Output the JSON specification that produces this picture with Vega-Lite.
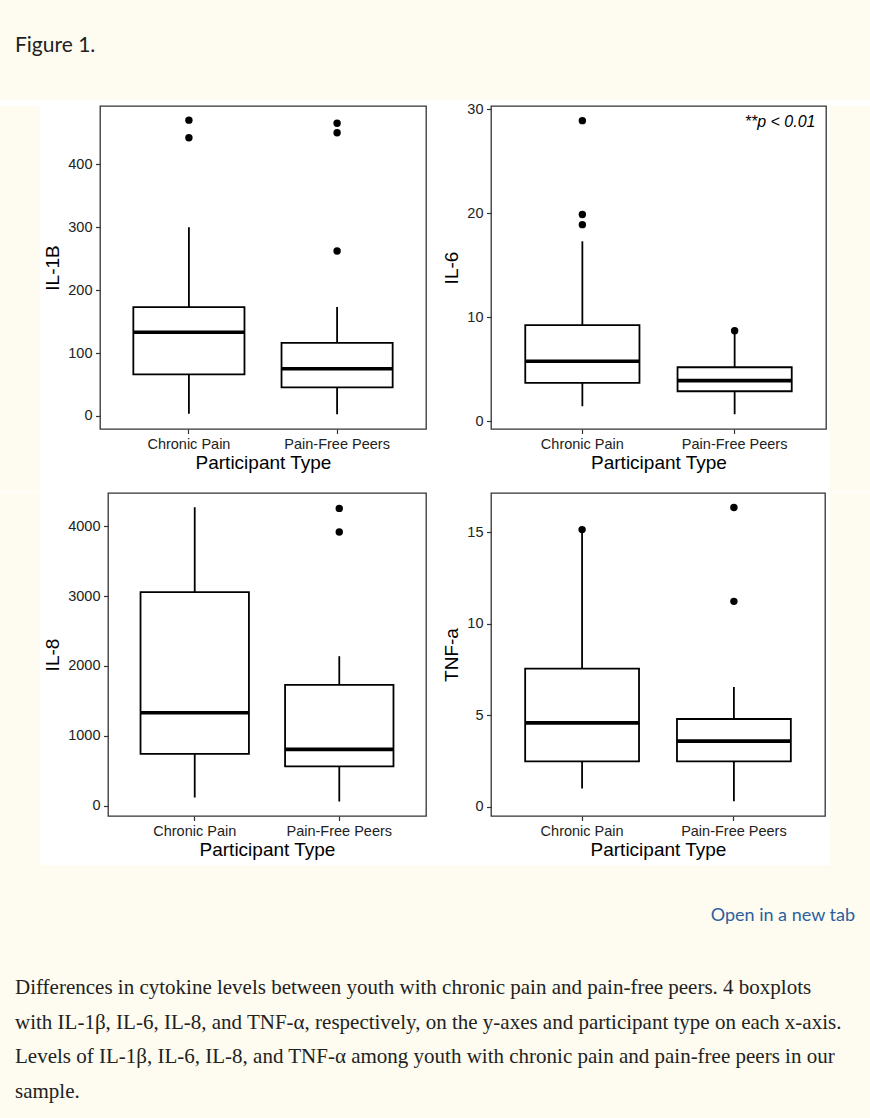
{
  "$schema": "https://vega.github.io/schema/vega-lite/v6.json",
  "background": "white",
  "padding": 0,
  "spacing": 0,
  "datasets": {
    "boxes": [
      {"cytokine": "IL-1B", "type": "Chronic Pain", "lower": 3.7, "q1": 66, "median": 133, "q3": 173, "upper": 300},
      {"cytokine": "IL-1B", "type": "Pain-Free Peers", "lower": 2.6, "q1": 45.5, "median": 75, "q3": 116, "upper": 173},
      {"cytokine": "IL-6", "type": "Chronic Pain", "lower": 1.44, "q1": 3.68, "median": 5.77, "q3": 9.23, "upper": 17.3},
      {"cytokine": "IL-6", "type": "Pain-Free Peers", "lower": 0.67, "q1": 2.88, "median": 3.9, "q3": 5.19, "upper": 8.6},
      {"cytokine": "IL-8", "type": "Chronic Pain", "lower": 118, "q1": 742, "median": 1331, "q3": 3057, "upper": 4270},
      {"cytokine": "IL-8", "type": "Pain-Free Peers", "lower": 61, "q1": 565, "median": 807, "q3": 1730, "upper": 2140},
      {"cytokine": "TNF-a", "type": "Chronic Pain", "lower": 1.0, "q1": 2.49, "median": 4.59, "q3": 7.55, "upper": 15.0},
      {"cytokine": "TNF-a", "type": "Pain-Free Peers", "lower": 0.31, "q1": 2.49, "median": 3.59, "q3": 4.8, "upper": 6.55}
    ],
    "outliers": [
      {"cytokine": "IL-1B", "type": "Chronic Pain", "value": 470},
      {"cytokine": "IL-1B", "type": "Chronic Pain", "value": 442},
      {"cytokine": "IL-1B", "type": "Pain-Free Peers", "value": 465},
      {"cytokine": "IL-1B", "type": "Pain-Free Peers", "value": 450},
      {"cytokine": "IL-1B", "type": "Pain-Free Peers", "value": 262},
      {"cytokine": "IL-6", "type": "Chronic Pain", "value": 28.9},
      {"cytokine": "IL-6", "type": "Chronic Pain", "value": 19.87},
      {"cytokine": "IL-6", "type": "Chronic Pain", "value": 18.9},
      {"cytokine": "IL-6", "type": "Pain-Free Peers", "value": 8.7},
      {"cytokine": "IL-8", "type": "Pain-Free Peers", "value": 4255},
      {"cytokine": "IL-8", "type": "Pain-Free Peers", "value": 3917},
      {"cytokine": "TNF-a", "type": "Chronic Pain", "value": 15.15},
      {"cytokine": "TNF-a", "type": "Pain-Free Peers", "value": 16.36},
      {"cytokine": "TNF-a", "type": "Pain-Free Peers", "value": 11.23}
    ]
  },
  "config": {
    "axis": {
      "grid": false, "domain": false,
      "tickColor": "#333333", "tickWidth": 1.2, "tickSize": 4.5,
      "labelFont": "Liberation Sans", "labelFontSize": 14.5, "labelColor": "#222222", "labelPadding": 3.5,
      "titleFont": "Liberation Sans", "titleFontSize": 19, "titleFontWeight": "normal", "titleColor": "#000000"
    },
    "axisX": {"labelAngle": 0, "titlePadding": 3},
    "axisY": {"titlePadding": 5, "format": "d"},
    "title": {"fontWeight": "normal"}
  },
  "vconcat": [
    {
      "width": 870, "height": 100,
      "view": {"fill": "#fefcf0", "stroke": null},
      "data": {"values": [{"label": "Figure 1."}]},
      "mark": {"type": "point", "opacity": 0},
      "title": {"text": "Figure 1.", "anchor": "start", "frame": "group", "orient": "top", "offset": -73, "dx": 15, "baseline": "alphabetic", "font": "Lato", "fontSize": 21, "fontWeight": "normal", "color": "#222222"}
    },
    {
      "spacing": 0,
      "vconcat": [
        {
          "spacing": 0, "bounds": "flush",
          "hconcat": [
            {"width": 40, "height": 386, "view": {"fill": "#fefcf0", "stroke": null}, "data": {"values": [{"label": "margin"}]}, "mark": {"type": "point", "opacity": 0}},
            {"width": 60, "height": 100, "view": {"stroke": null}, "data": {"values": [{"label": "gap"}]}, "mark": {"type": "point", "opacity": 0}},
            {
              "width": 326, "height": 323,
              "view": {"fill": "white", "stroke": "#333333", "strokeWidth": 1.3},
              "encoding": {"x": {"field": "type", "type": "nominal", "title": "Participant Type", "scale": {"domain": ["Chronic Pain", "Pain-Free Peers"], "paddingInner": 0.25, "paddingOuter": 0.225}}},
              "layer": [
                {"data": {"name": "boxes"}, "transform": [{"filter": "datum.cytokine === 'IL-1B'"}],
                 "mark": {"type": "rule", "color": "black", "strokeWidth": 1.8},
                 "encoding": {"y": {"field": "lower", "type": "quantitative", "title": "IL-1B", "scale": {"domain": [-20.7, 492.5], "nice": false, "zero": false}, "axis": {"values": [0, 100, 200, 300, 400]}}, "y2": {"field": "upper"}}},
                {"data": {"name": "boxes"}, "transform": [{"filter": "datum.cytokine === 'IL-1B'"}],
                 "mark": {"type": "bar", "fill": "white", "stroke": "black", "strokeWidth": 1.8},
                 "encoding": {"y": {"field": "q1", "type": "quantitative", "title": "IL-1B", "scale": {"domain": [-20.7, 492.5], "nice": false, "zero": false}, "axis": {"values": [0, 100, 200, 300, 400]}}, "y2": {"field": "q3"}}},
                {"data": {"name": "boxes"}, "transform": [{"filter": "datum.cytokine === 'IL-1B'"}],
                 "mark": {"type": "tick", "color": "black", "thickness": 3.6, "size": 111, "opacity": 1},
                 "encoding": {"y": {"field": "median", "type": "quantitative", "title": "IL-1B", "scale": {"domain": [-20.7, 492.5], "nice": false, "zero": false}, "axis": {"values": [0, 100, 200, 300, 400]}}}},
                {"data": {"name": "outliers"}, "transform": [{"filter": "datum.cytokine === 'IL-1B'"}],
                 "mark": {"type": "point", "filled": true, "color": "black", "size": 55, "opacity": 1},
                 "encoding": {"y": {"field": "value", "type": "quantitative", "title": "IL-1B", "scale": {"domain": [-20.7, 492.5], "nice": false, "zero": false}, "axis": {"values": [0, 100, 200, 300, 400]}}}}
              ]
            },
            {"width": 65, "height": 100, "view": {"stroke": null}, "data": {"values": [{"label": "gap"}]}, "mark": {"type": "point", "opacity": 0}},
            {
              "width": 335, "height": 323,
              "view": {"fill": "white", "stroke": "#333333", "strokeWidth": 1.3},
              "title": {"text": "**p < 0.01", "anchor": "end", "frame": "group", "orient": "top", "offset": -42, "dx": -10.5, "baseline": "alphabetic", "font": "Liberation Sans", "fontSize": 16, "fontStyle": "italic", "fontWeight": "normal", "color": "#000000"},
              "encoding": {"x": {"field": "type", "type": "nominal", "title": "Participant Type", "scale": {"domain": ["Chronic Pain", "Pain-Free Peers"], "paddingInner": 0.25, "paddingOuter": 0.225}}},
              "layer": [
                {"data": {"name": "boxes"}, "transform": [{"filter": "datum.cytokine === 'IL-6'"}],
                 "mark": {"type": "rule", "color": "black", "strokeWidth": 1.8},
                 "encoding": {"y": {"field": "lower", "type": "quantitative", "title": "IL-6", "scale": {"domain": [-0.75, 30.31], "nice": false, "zero": false}, "axis": {"values": [0, 10, 20, 30]}}, "y2": {"field": "upper"}}},
                {"data": {"name": "boxes"}, "transform": [{"filter": "datum.cytokine === 'IL-6'"}],
                 "mark": {"type": "bar", "fill": "white", "stroke": "black", "strokeWidth": 1.8},
                 "encoding": {"y": {"field": "q1", "type": "quantitative", "title": "IL-6", "scale": {"domain": [-0.75, 30.31], "nice": false, "zero": false}, "axis": {"values": [0, 10, 20, 30]}}, "y2": {"field": "q3"}}},
                {"data": {"name": "boxes"}, "transform": [{"filter": "datum.cytokine === 'IL-6'"}],
                 "mark": {"type": "tick", "color": "black", "thickness": 3.6, "size": 114, "opacity": 1},
                 "encoding": {"y": {"field": "median", "type": "quantitative", "title": "IL-6", "scale": {"domain": [-0.75, 30.31], "nice": false, "zero": false}, "axis": {"values": [0, 10, 20, 30]}}}},
                {"data": {"name": "outliers"}, "transform": [{"filter": "datum.cytokine === 'IL-6'"}],
                 "mark": {"type": "point", "filled": true, "color": "black", "size": 55, "opacity": 1},
                 "encoding": {"y": {"field": "value", "type": "quantitative", "title": "IL-6", "scale": {"domain": [-0.75, 30.31], "nice": false, "zero": false}, "axis": {"values": [0, 10, 20, 30]}}}}
              ]
            },
            {"width": 4, "height": 100, "view": {"stroke": null}, "data": {"values": [{"label": "gap"}]}, "mark": {"type": "point", "opacity": 0}},
            {"width": 40, "height": 386, "view": {"fill": "#fefcf0", "stroke": null}, "data": {"values": [{"label": "margin"}]}, "mark": {"type": "point", "opacity": 0}}
          ]
        },
        {
          "spacing": 0, "bounds": "flush",
          "hconcat": [
            {"width": 40, "height": 372, "view": {"fill": "#fefcf0", "stroke": null}, "data": {"values": [{"label": "margin"}]}, "mark": {"type": "point", "opacity": 0}},
            {"width": 68, "height": 100, "view": {"stroke": null}, "data": {"values": [{"label": "gap"}]}, "mark": {"type": "point", "opacity": 0}},
            {
              "width": 318, "height": 323,
              "view": {"fill": "white", "stroke": "#333333", "strokeWidth": 1.3},
              "encoding": {"x": {"field": "type", "type": "nominal", "title": "Participant Type", "scale": {"domain": ["Chronic Pain", "Pain-Free Peers"], "paddingInner": 0.25, "paddingOuter": 0.225}}},
              "layer": [
                {"data": {"name": "boxes"}, "transform": [{"filter": "datum.cytokine === 'IL-8'"}],
                 "mark": {"type": "rule", "color": "black", "strokeWidth": 1.8},
                 "encoding": {"y": {"field": "lower", "type": "quantitative", "title": "IL-8", "scale": {"domain": [-146, 4475], "nice": false, "zero": false}, "axis": {"values": [0, 1000, 2000, 3000, 4000]}}, "y2": {"field": "upper"}}},
                {"data": {"name": "boxes"}, "transform": [{"filter": "datum.cytokine === 'IL-8'"}],
                 "mark": {"type": "bar", "fill": "white", "stroke": "black", "strokeWidth": 1.8},
                 "encoding": {"y": {"field": "q1", "type": "quantitative", "title": "IL-8", "scale": {"domain": [-146, 4475], "nice": false, "zero": false}, "axis": {"values": [0, 1000, 2000, 3000, 4000]}}, "y2": {"field": "q3"}}},
                {"data": {"name": "boxes"}, "transform": [{"filter": "datum.cytokine === 'IL-8'"}],
                 "mark": {"type": "tick", "color": "black", "thickness": 3.6, "size": 108.5, "opacity": 1},
                 "encoding": {"y": {"field": "median", "type": "quantitative", "title": "IL-8", "scale": {"domain": [-146, 4475], "nice": false, "zero": false}, "axis": {"values": [0, 1000, 2000, 3000, 4000]}}}},
                {"data": {"name": "outliers"}, "transform": [{"filter": "datum.cytokine === 'IL-8'"}],
                 "mark": {"type": "point", "filled": true, "color": "black", "size": 55, "opacity": 1},
                 "encoding": {"y": {"field": "value", "type": "quantitative", "title": "IL-8", "scale": {"domain": [-146, 4475], "nice": false, "zero": false}, "axis": {"values": [0, 1000, 2000, 3000, 4000]}}}}
              ]
            },
            {"width": 65, "height": 100, "view": {"stroke": null}, "data": {"values": [{"label": "gap"}]}, "mark": {"type": "point", "opacity": 0}},
            {
              "width": 334, "height": 323,
              "view": {"fill": "white", "stroke": "#333333", "strokeWidth": 1.3},
              "encoding": {"x": {"field": "type", "type": "nominal", "title": "Participant Type", "scale": {"domain": ["Chronic Pain", "Pain-Free Peers"], "paddingInner": 0.25, "paddingOuter": 0.225}}},
              "layer": [
                {"data": {"name": "boxes"}, "transform": [{"filter": "datum.cytokine === 'TNF-a'"}],
                 "mark": {"type": "rule", "color": "black", "strokeWidth": 1.8},
                 "encoding": {"y": {"field": "lower", "type": "quantitative", "title": "TNF-a", "scale": {"domain": [-0.5, 17.15], "nice": false, "zero": false}, "axis": {"values": [0, 5, 10, 15]}}, "y2": {"field": "upper"}}},
                {"data": {"name": "boxes"}, "transform": [{"filter": "datum.cytokine === 'TNF-a'"}],
                 "mark": {"type": "bar", "fill": "white", "stroke": "black", "strokeWidth": 1.8},
                 "encoding": {"y": {"field": "q1", "type": "quantitative", "title": "TNF-a", "scale": {"domain": [-0.5, 17.15], "nice": false, "zero": false}, "axis": {"values": [0, 5, 10, 15]}}, "y2": {"field": "q3"}}},
                {"data": {"name": "boxes"}, "transform": [{"filter": "datum.cytokine === 'TNF-a'"}],
                 "mark": {"type": "tick", "color": "black", "thickness": 3.6, "size": 114, "opacity": 1},
                 "encoding": {"y": {"field": "median", "type": "quantitative", "title": "TNF-a", "scale": {"domain": [-0.5, 17.15], "nice": false, "zero": false}, "axis": {"values": [0, 5, 10, 15]}}}},
                {"data": {"name": "outliers"}, "transform": [{"filter": "datum.cytokine === 'TNF-a'"}],
                 "mark": {"type": "point", "filled": true, "color": "black", "size": 55, "opacity": 1},
                 "encoding": {"y": {"field": "value", "type": "quantitative", "title": "TNF-a", "scale": {"domain": [-0.5, 17.15], "nice": false, "zero": false}, "axis": {"values": [0, 5, 10, 15]}}}}
              ]
            },
            {"width": 5, "height": 100, "view": {"stroke": null}, "data": {"values": [{"label": "gap"}]}, "mark": {"type": "point", "opacity": 0}},
            {"width": 40, "height": 372, "view": {"fill": "#fefcf0", "stroke": null}, "data": {"values": [{"label": "margin"}]}, "mark": {"type": "point", "opacity": 0}}
          ]
        }
      ]
    },
    {
      "width": 870, "height": 84,
      "view": {"fill": "#fefcf0", "stroke": null},
      "data": {"values": [{"label": "Open in a new tab"}]},
      "mark": {"type": "point", "opacity": 0},
      "title": {"text": "Open in a new tab", "anchor": "end", "frame": "group", "orient": "top", "offset": -74, "dx": -15, "baseline": "alphabetic", "font": "Lato", "fontSize": 18, "fontWeight": "normal", "color": "#2d5f9e"}
    },
    {
      "width": 870, "height": 173,
      "view": {"fill": "#fefcf0", "stroke": null},
      "data": {"values": [{"label": "caption"}]},
      "mark": {"type": "point", "opacity": 0},
      "title": {
        "text": [
          "Differences in cytokine levels between youth with chronic pain and pain-free peers. 4 boxplots",
          "with IL-1β, IL-6, IL-8, and TNF-α, respectively, on the y-axes and participant type on each x-axis.",
          "Levels of IL-1β, IL-6, IL-8, and TNF-α among youth with chronic pain and pain-free peers in our",
          "sample."
        ],
        "anchor": "start", "frame": "group", "orient": "top", "offset": -170, "dx": 15, "baseline": "alphabetic",
        "font": "Liberation Serif", "fontSize": 21, "lineHeight": 34.7, "fontWeight": "normal", "color": "#222222"
      }
    }
  ]
}
